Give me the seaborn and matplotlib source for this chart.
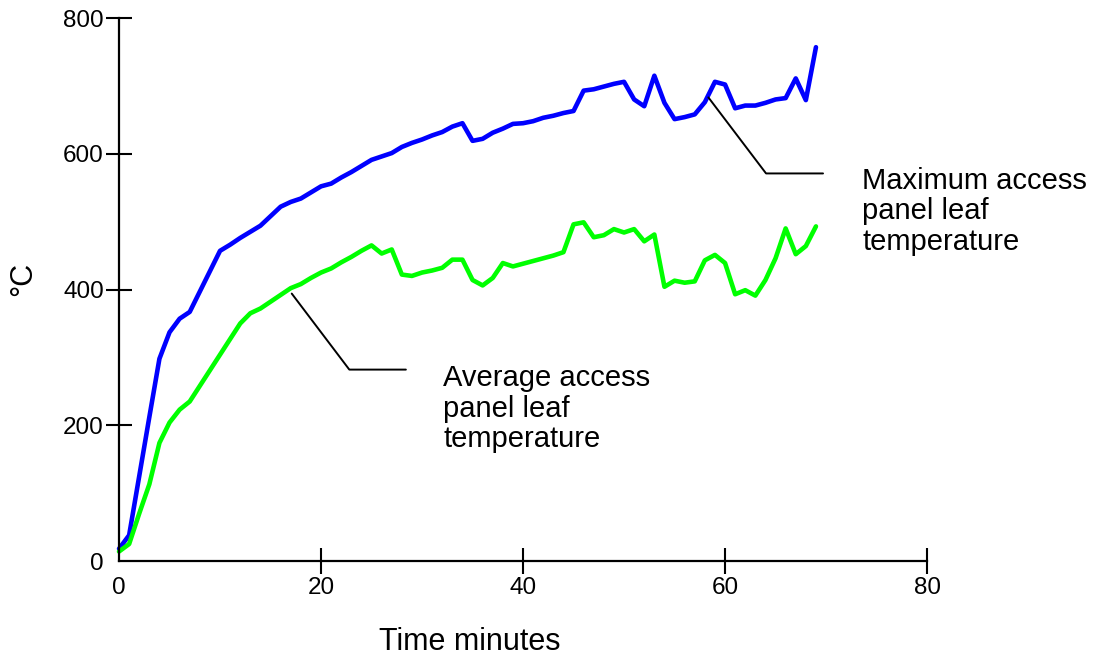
import pandas as pd
import matplotlib
matplotlib.use('Agg')
import matplotlib.pyplot as plt
import seaborn as sns

# Datos (un punto por minuto)
minutes = list(range(70))
max_temp = [18, 38, 125, 212, 298, 337, 357, 367, 397, 427,
            457, 466, 476, 485, 494, 508, 522, 529, 534, 543,
            552, 556, 565, 573, 582, 591, 596, 601, 610, 616,
            621, 627, 632, 640, 645, 619, 622, 631, 637, 644,
            645, 648, 653, 656, 660, 663, 693, 695, 699, 703,
            706, 680, 670, 715, 675, 651, 654, 658, 676, 706,
            702, 667, 671, 671, 675, 680, 682, 711, 679, 757]
avg_temp = [14, 25, 70, 113, 174, 204, 223, 235, 258, 281,
            304, 327, 350, 365, 372, 382, 392, 402, 408, 417,
            425, 431, 440, 448, 457, 465, 453, 459, 422, 420,
            425, 428, 432, 444, 444, 414, 406, 417, 439, 434,
            438, 442, 446, 450, 455, 496, 499, 477, 480, 489,
            484, 489, 471, 481, 404, 413, 410, 412, 443, 451,
            439, 393, 399, 391, 414, 446, 490, 452, 464, 493]

x_ticks = [0, 20, 40, 60, 80]
y_ticks = [0, 200, 400, 600, 800]

max_label = 'Maximum access\npanel leaf\ntemperature'
avg_label = 'Average access\npanel leaf\ntemperature'

df = pd.DataFrame({
    'minutes': minutes * 2,
    'temp': max_temp + avg_temp,
    'series': ['max'] * len(max_temp) + ['avg'] * len(avg_temp),
})

sns.set_style('white')
plt.rcParams['font.family'] = ['Liberation Sans', 'DejaVu Sans']
plt.rcParams['text.color'] = 'black'

fig = plt.figure(figsize=(10.94, 6.57), dpi=100)
ax = fig.add_axes([0.1088, 0.1461, 0.7386, 0.8265])

sns.lineplot(data=df, x='minutes', y='temp', hue='series',
             palette={'max': '#0000ff', 'avg': '#00ff00'},
             linewidth=3.3, legend=False, ax=ax, clip_on=False)

# Líneas guía de las etiquetas
ax.plot([58.35, 64.06, 69.7], [683, 571, 571], color='black', lw=1.4)
ax.plot([17.1, 22.8, 28.4], [394, 282, 282], color='black', lw=1.4)
ax.text(73.6, 581, max_label, fontsize=21, ha='left', va='top',
        linespacing=1.12, color='black')
ax.text(32.1, 290, avg_label, fontsize=21, ha='left', va='top',
        linespacing=1.12, color='black')

ax.set_xlim(0, 80)
ax.set_ylim(0, 800)
ax.set_xticks(x_ticks)
ax.set_yticks(y_ticks)
ax.tick_params(direction='inout', length=18.7, width=1.5, labelsize=17.5,
               color='black', labelcolor='black', bottom=True, left=True)
ax.tick_params(axis='x', pad=2.5)
ax.tick_params(axis='y', pad=1.5)
ax.xaxis.get_major_ticks()[0].tick1line.set_visible(False)
ax.yaxis.get_major_ticks()[0].tick1line.set_visible(False)

for s in ['top', 'right']:
    ax.spines[s].set_visible(False)
for s in ['left', 'bottom']:
    ax.spines[s].set_linewidth(1.6)
    ax.spines[s].set_color('black')

ax.set_xlabel('Time minutes', fontsize=22, color='black')
ax.set_ylabel('°C', fontsize=22, color='black')
ax.xaxis.set_label_coords(0.434, -0.122)
ax.yaxis.set_label_coords(-0.1, 0.52)

fig.savefig('out.png', dpi=100)
